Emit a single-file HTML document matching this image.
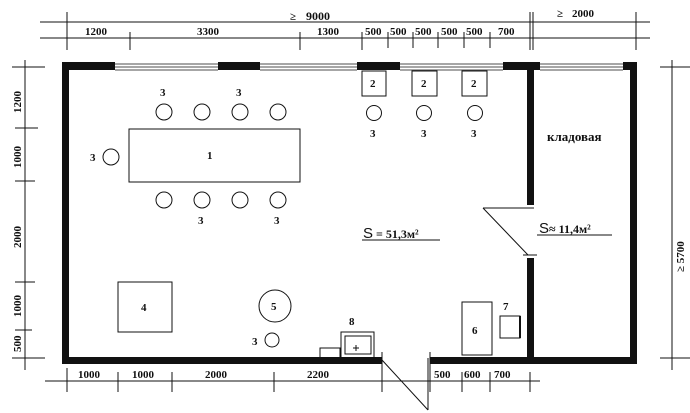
<!DOCTYPE html>
<html><head><meta charset="utf-8"><style>
html,body{margin:0;padding:0;background:#fff;width:690px;height:413px;overflow:hidden}
text{font-family:"Liberation Serif",serif;font-weight:bold;fill:#111}
</style></head><body>
<svg width="690" height="413" viewBox="0 0 690 413" xmlns="http://www.w3.org/2000/svg">
<g stroke="#111" fill="none" stroke-width="1">
<line x1="40" y1="22" x2="650" y2="22"/>
<line x1="40" y1="38" x2="650" y2="38"/>
<g stroke-width="1">
<line x1="67" y1="12" x2="67" y2="50"/><line x1="530" y1="12" x2="530" y2="50"/><line x1="533" y1="12" x2="533" y2="50"/><line x1="636" y1="12" x2="636" y2="50"/>
<line x1="130" y1="32" x2="130" y2="50"/><line x1="300" y1="32" x2="300" y2="50"/><line x1="362" y1="32" x2="362" y2="50"/><line x1="388" y1="32" x2="388" y2="48"/><line x1="413" y1="32" x2="413" y2="48"/><line x1="438" y1="32" x2="438" y2="48"/><line x1="464" y1="32" x2="464" y2="48"/><line x1="490" y1="32" x2="490" y2="48"/>
</g>
<line x1="25" y1="60" x2="25" y2="370"/>
<line x1="12" y1="67" x2="45" y2="67"/><line x1="15" y1="128" x2="38" y2="128"/><line x1="15" y1="181" x2="35" y2="181"/><line x1="15" y1="282" x2="35" y2="282"/><line x1="15" y1="330" x2="32" y2="330"/><line x1="12" y1="358" x2="45" y2="358"/>
<line x1="672" y1="60" x2="672" y2="370"/>
<line x1="660" y1="67" x2="690" y2="67"/><line x1="660" y1="358" x2="690" y2="358"/>
<line x1="45" y1="381" x2="540" y2="381"/>
<line x1="67" y1="368" x2="67" y2="392"/><line x1="118" y1="372" x2="118" y2="392"/><line x1="172" y1="372" x2="172" y2="392"/><line x1="274" y1="372" x2="274" y2="392"/><line x1="382" y1="352" x2="382" y2="392"/><line x1="430" y1="352" x2="430" y2="392"/><line x1="462" y1="372" x2="462" y2="392"/><line x1="490" y1="372" x2="490" y2="392"/><line x1="530" y1="372" x2="530" y2="392"/>
<g stroke-width="0.7">
<line x1="115" y1="64" x2="218" y2="64"/><line x1="115" y1="67" x2="218" y2="67"/><line x1="115" y1="70" x2="218" y2="70"/>
<line x1="260" y1="64" x2="357" y2="64"/><line x1="260" y1="67" x2="357" y2="67"/><line x1="260" y1="70" x2="357" y2="70"/>
<line x1="400" y1="64" x2="503" y2="64"/><line x1="400" y1="67" x2="503" y2="67"/><line x1="400" y1="70" x2="503" y2="70"/>
<line x1="540" y1="64" x2="623" y2="64"/><line x1="540" y1="67" x2="623" y2="67"/><line x1="540" y1="70" x2="623" y2="70"/>
</g>
<line x1="382" y1="360" x2="428" y2="410"/><line x1="428" y1="358" x2="428" y2="410"/>
<line x1="483" y1="208" x2="534" y2="208"/><line x1="483" y1="208" x2="528" y2="255"/>
<line x1="523" y1="255" x2="537" y2="255"/>
<rect x="129" y="129" width="171" height="53"/>
<circle cx="164" cy="112" r="8"/><circle cx="202" cy="112" r="8"/><circle cx="240" cy="112" r="8"/><circle cx="278" cy="112" r="8"/>
<circle cx="164" cy="200" r="8"/><circle cx="202" cy="200" r="8"/><circle cx="240" cy="200" r="8"/><circle cx="278" cy="200" r="8"/>
<circle cx="111" cy="157" r="8"/>
<rect x="362" y="71" width="24" height="25"/><rect x="412" y="71" width="25" height="25"/><rect x="462" y="71" width="25" height="25"/>
<circle cx="374" cy="113" r="7.5"/><circle cx="424" cy="113" r="7.5"/><circle cx="475" cy="113" r="7.5"/>
<rect x="118" y="282" width="54" height="50"/>
<circle cx="275" cy="306" r="16"/>
<circle cx="272" cy="340" r="7"/>
<rect x="341" y="332" width="33" height="26"/><rect x="345" y="336" width="26" height="18"/>
<line x1="353" y1="348" x2="359" y2="348"/><line x1="356" y1="345" x2="356" y2="351"/>
<rect x="320" y="348" width="20" height="10"/>
<rect x="462" y="302" width="30" height="53"/>
<rect x="500" y="316" width="20" height="22"/><line x1="520" y1="316" x2="520" y2="338" stroke-width="2"/>
<line x1="362" y1="240" x2="440" y2="240"/>
<line x1="537" y1="235" x2="612" y2="235"/>
</g>
<g fill="#111">
<rect x="62" y="62" width="53" height="8"/><rect x="218" y="62" width="42" height="8"/><rect x="357" y="62" width="43" height="8"/><rect x="503" y="62" width="37" height="8"/><rect x="623" y="62" width="14" height="8"/>
<rect x="62" y="62" width="7" height="302"/>
<rect x="630" y="62" width="7" height="302"/>
<rect x="62" y="357" width="320" height="7"/>
<rect x="430" y="357" width="207" height="7"/>
<rect x="527" y="62" width="7" height="143"/>
<rect x="527" y="258" width="7" height="106"/>
</g>
<g font-size="11">
<text x="290" y="20">≥</text><text x="306" y="20" font-size="12">9000</text>
<text x="557" y="17">≥</text><text x="572" y="17">2000</text>
<text x="85" y="35">1200</text><text x="197" y="35">3300</text><text x="317" y="35">1300</text>
<text x="365" y="35">500</text><text x="390" y="35">500</text><text x="415" y="35">500</text><text x="441" y="35">500</text><text x="466" y="35">500</text><text x="498" y="35">700</text>
<text x="78" y="378">1000</text><text x="132" y="378">1000</text><text x="205" y="378">2000</text><text x="307" y="378">2200</text>
<text x="434" y="378">500</text><text x="464" y="378">600</text><text x="494" y="378">700</text>
<text transform="translate(21,113) rotate(-90)">1200</text>
<text transform="translate(21,168) rotate(-90)">1000</text>
<text transform="translate(21,248) rotate(-90)">2000</text>
<text transform="translate(21,317) rotate(-90)">1000</text>
<text transform="translate(21,352) rotate(-90)">500</text>
<text transform="translate(684,272) rotate(-90)">≥ 5700</text>
<text x="160" y="96">3</text><text x="236" y="96">3</text>
<text x="198" y="224">3</text><text x="274" y="224">3</text>
<text x="90" y="161">3</text>
<text x="207" y="159">1</text>
<text x="370" y="87">2</text><text x="421" y="87">2</text><text x="471" y="87">2</text>
<text x="370" y="137">3</text><text x="421" y="137">3</text><text x="471" y="137">3</text>
<text x="141" y="311">4</text><text x="271" y="310">5</text><text x="252" y="345">3</text>
<text x="349" y="325">8</text><text x="472" y="334">6</text><text x="503" y="310">7</text>
<text x="547" y="141" font-family="Liberation Sans" font-size="13">кладовая</text>
<text x="363" y="238" font-size="12"><tspan font-family="Liberation Sans" font-weight="normal" font-size="15">S</tspan> = 51,3м²</text>
<text x="539" y="233" font-size="12"><tspan font-family="Liberation Sans" font-weight="normal" font-size="15">S</tspan>≈ 11,4м²</text>
</g>
</svg>
</body></html>
